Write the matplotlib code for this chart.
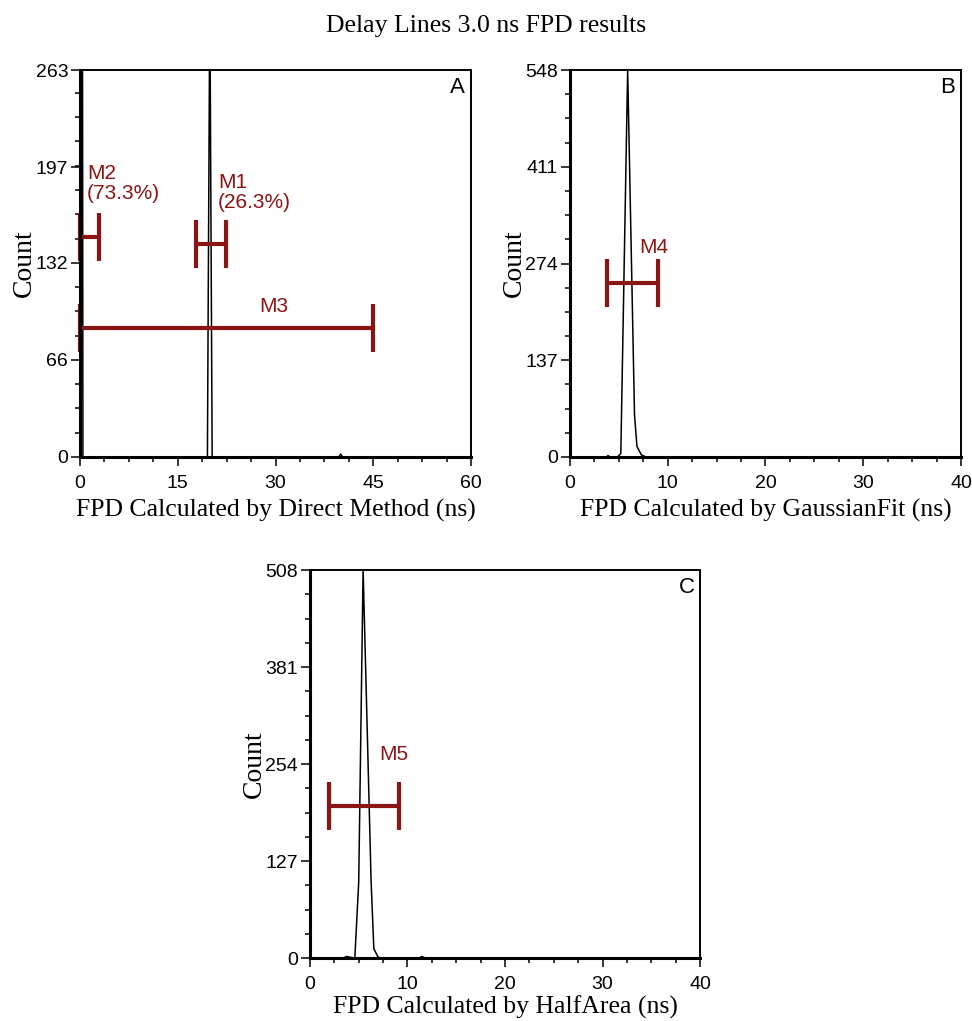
import matplotlib
matplotlib.use("Agg")
import matplotlib.pyplot as plt
from matplotlib.ticker import AutoMinorLocator

plt.rcParams['font.family'] = ['Liberation Sans', 'DejaVu Sans']

# histogram traces (FPD in ns, counts)
a_x = [0, 0.2, 0.45, 19.55, 19.92, 20.28, 39.7, 40.0, 40.3, 60]
a_y = [0, 1100, 0, 0, 315, 0, 0, 2, 0, 0]

b_x = [0, 3.7, 3.9, 4.1, 4.8, 5.0, 5.2, 5.9, 6.6, 6.85, 7.3, 7.8, 40]
b_y = [0, 0, 2, 0, 0, 2, 5, 548, 60, 15, 3, 0, 0]

c_x = [0, 3.4, 3.75, 4.1, 4.6, 5.0, 5.45, 6.27, 6.55, 7.0, 7.3, 11.2, 11.5, 11.8, 40]
c_y = [0, 0, 2, 1, 0, 100, 508, 100, 12, 1, 0, 0, 2, 0, 0]

# tick values
a_xticks = [0, 15, 30, 45, 60]
a_yticks = [0, 66, 132, 197, 263]
b_xticks = [0, 10, 20, 30, 40]
b_yticks = [0, 137, 274, 411, 548]
c_xticks = [0, 10, 20, 30, 40]
c_yticks = [0, 127, 254, 381, 508]

# gate markers: (start, end, level)
a_gates = [(17.8, 22.4, 144.5), (0, 2.9, 149.7), (0, 45, 88)]
a_gate_labels = ["M1\n(26.3%)", "M2\n(73.3%)", "M3"]
b_gates = [(3.82, 8.97, 247)]
b_gate_labels = ["M4"]
c_gates = [(2.0, 9.1, 199)]
c_gate_labels = ["M5"]

gate_color = '#8b1414'
serif = 'Liberation Serif'


def make_panel(rect, x, y, xticks, yticks, xlabel, letter, gates, labels, label_pos, label_ha,
               xlabelpad=5):
    ax = fig.add_axes(rect)
    ax.plot(x, y, color='black', lw=1.1)
    ax.set_xlim(xticks[0], xticks[-1])
    ax.set_ylim(yticks[0], yticks[-1])
    ax.set_xticks(xticks)
    ax.set_yticks(yticks)
    ax.set_xticklabels([str(v) for v in xticks])
    ax.set_yticklabels([str(v) for v in yticks])
    ax.xaxis.set_minor_locator(AutoMinorLocator(4))
    ax.yaxis.set_minor_locator(AutoMinorLocator(4))
    ax.tick_params(which='major', direction='out', length=6.5, width=1.1, labelsize=14, pad=2)
    ax.tick_params(axis='x', which='major', pad=6.5)
    ax.tick_params(which='minor', direction='out', length=3.5, width=1.1)
    for side in ['left', 'bottom']:
        ax.spines[side].set_linewidth(2.2)
    for side in ['top', 'right']:
        ax.spines[side].set_linewidth(1.4)
    ax.set_xlabel(xlabel, fontfamily=serif, fontsize=18.5, labelpad=xlabelpad)
    ax.set_ylabel('Count', fontfamily=serif, fontsize=20, labelpad=-1)
    ax.text(0.965, 0.955, letter, transform=ax.transAxes, ha='center', va='center', fontsize=16)

    for (x0, x1, lev), lab, pos, ha in zip(gates, labels, label_pos, label_ha):
        ax.plot([x0, x1], [lev, lev], color=gate_color, lw=3, solid_capstyle='butt', clip_on=False)
        ax.plot([x0, x1], [lev, lev], ls='', marker='|', ms=34, mew=3,
                color=gate_color, clip_on=False)
        ax.text(pos[0], pos[1], lab, color=gate_color, fontsize=15, ha=ha, va='center',
                linespacing=1.05)
    return ax


fig = plt.figure(figsize=(9.72, 10.21), dpi=100)

fig.text(0.5, 0.975, 'Delay Lines 3.0 ns FPD results', ha='center', va='center',
         fontfamily=serif, fontsize=18.5)

make_panel([0.0823, 0.5524, 0.4023, 0.379], a_x, a_y, a_xticks, a_yticks,
           'FPD Calculated by Direct Method (ns)', 'A',
           a_gates, a_gate_labels, [(21.2, 180), (1.07, 186), (29.7, 102.6)],
           ['left', 'left', 'center'])

make_panel([0.5864, 0.5524, 0.4023, 0.379], b_x, b_y, b_xticks, b_yticks,
           'FPD Calculated by GaussianFit (ns)', 'B',
           b_gates, b_gate_labels, [(7.06, 296)], ['left'])

make_panel([0.3189, 0.0617, 0.4013, 0.380], c_x, c_y, c_xticks, c_yticks,
           'FPD Calculated by HalfArea (ns)', 'C',
           c_gates, c_gate_labels, [(7.06, 266)], ['left'], xlabelpad=2)

fig.savefig('out.png', dpi=100)
